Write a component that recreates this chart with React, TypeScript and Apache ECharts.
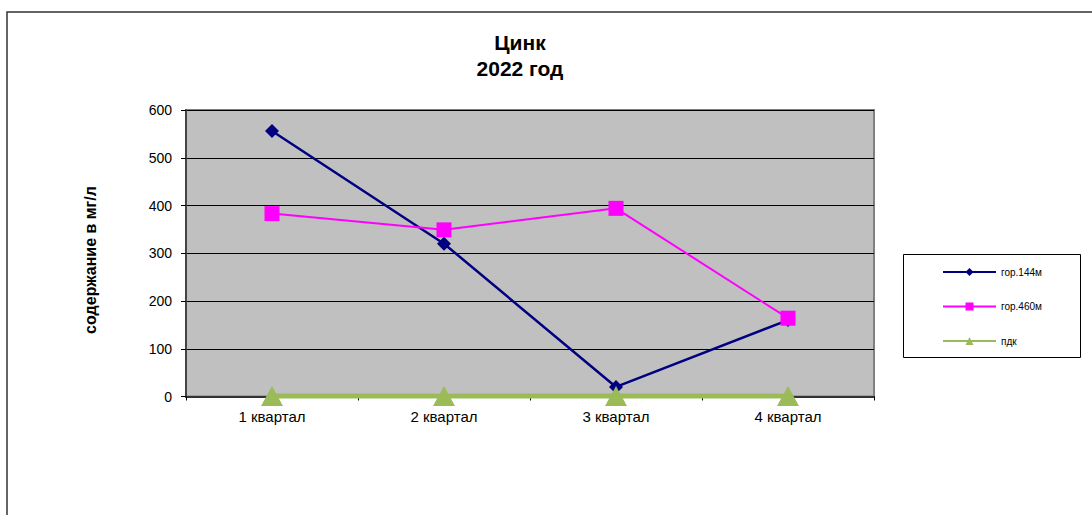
import React, { useEffect, useRef } from "react";
import * as echarts from "echarts";

// Quarters of the year
const categories = ["1 квартал", "2 квартал", "3 квартал", "4 квартал"];

// Zinc content, mg/l, per horizon
const seriesNames = ["гор.144м", "гор.460м", "пдк"];
const gor144 = [556, 320, 20, 160];
const gor460 = [383, 349, 394, 164];
const pdk = [1, 1, 1, 1];

const titleLines = ["Цинк", "2022 год"];
const yAxisName = "содержание в мг/л";

const FONT = "'Liberation Sans', Arial, sans-serif";

export default function App() {
  const ref = useRef<HTMLDivElement>(null);

  useEffect(() => {
    if (!ref.current) return;
    const chart = echarts.init(ref.current, null, { renderer: "svg" });
    chart.setOption({
      animation: false,
      backgroundColor: "#ffffff",
      textStyle: { fontFamily: FONT },
      graphic: [
        {
          type: "rect",
          shape: { x: 7, y: 12, width: 1200, height: 600 },
          style: { fill: "none", stroke: "#333333", lineWidth: 1.5 },
          silent: true,
        },
        {
          type: "text",
          x: 520,
          y: 42,
          style: {
            text: titleLines[0],
            font: `bold 21px ${FONT}`,
            fill: "#000",
            textAlign: "center",
            textVerticalAlign: "middle",
          },
        },
        {
          type: "text",
          x: 520,
          y: 68,
          style: {
            text: titleLines[1],
            font: `bold 21px ${FONT}`,
            fill: "#000",
            textAlign: "center",
            textVerticalAlign: "middle",
          },
        },
        {
          type: "text",
          x: 90,
          y: 260,
          rotation: Math.PI / 2,
          style: {
            text: yAxisName,
            font: `bold 16px ${FONT}`,
            fill: "#000",
            textAlign: "center",
            textVerticalAlign: "middle",
          },
        },
        {
          type: "rect",
          shape: { x: 903.5, y: 254.5, width: 177, height: 103 },
          style: { fill: "#fff", stroke: "#000", lineWidth: 1 },
          z: 0,
        },
      ],
      legend: {
        data: seriesNames,
        orient: "vertical",
        left: 942,
        top: 267,
        padding: 0,
        itemWidth: 53,
        itemHeight: 10,
        itemGap: 24.5,
        textStyle: { fontSize: 10, color: "#000", fontFamily: FONT },
        z: 5,
      },
      grid: {
        left: 186,
        right: 218,
        top: 110,
        bottom: 118.5,
        show: true,
        backgroundColor: "#C0C0C0",
        borderColor: "#808080",
        borderWidth: 2,
      },
      xAxis: {
        type: "category",
        data: categories,
        boundaryGap: true,
        axisLine: { lineStyle: { color: "#333", width: 2 } },
        axisTick: { show: true, length: 4, lineStyle: { color: "#000" } },
        axisLabel: { color: "#000", fontSize: 15, margin: 12, fontFamily: FONT },
      },
      yAxis: {
        type: "value",
        min: 0,
        max: 600,
        interval: 100,
        axisLine: { show: true, lineStyle: { color: "#444", width: 2 } },
        axisTick: { show: true, length: 5, lineStyle: { color: "#000" } },
        axisLabel: { color: "#000", fontSize: 14, margin: 14, fontFamily: FONT },
        splitLine: { show: true, lineStyle: { color: "#000", width: 1 } },
      },
      series: [
        {
          name: seriesNames[0],
          type: "line",
          data: gor144,
          symbol: "diamond",
          symbolSize: 14,
          itemStyle: { color: "#000080" },
          lineStyle: { color: "#000080", width: 2.5 },
          z: 3,
        },
        {
          name: seriesNames[1],
          type: "line",
          data: gor460,
          symbol: "rect",
          symbolSize: 15,
          itemStyle: { color: "#FF00FF" },
          lineStyle: { color: "#FF00FF", width: 2 },
          z: 4,
        },
        {
          name: seriesNames[2],
          type: "line",
          data: pdk,
          symbol: "triangle",
          symbolSize: [22, 20],
          itemStyle: { color: "#9BBB59" },
          lineStyle: { color: "#9BBB59", width: 5 },
          z: 5,
        },
      ],
    });
    return () => chart.dispose();
  }, []);

  return (
    <div
      ref={ref}
      style={{ position: "fixed", left: 0, top: 0, width: 1092, height: 515 }}
    />
  );
}
